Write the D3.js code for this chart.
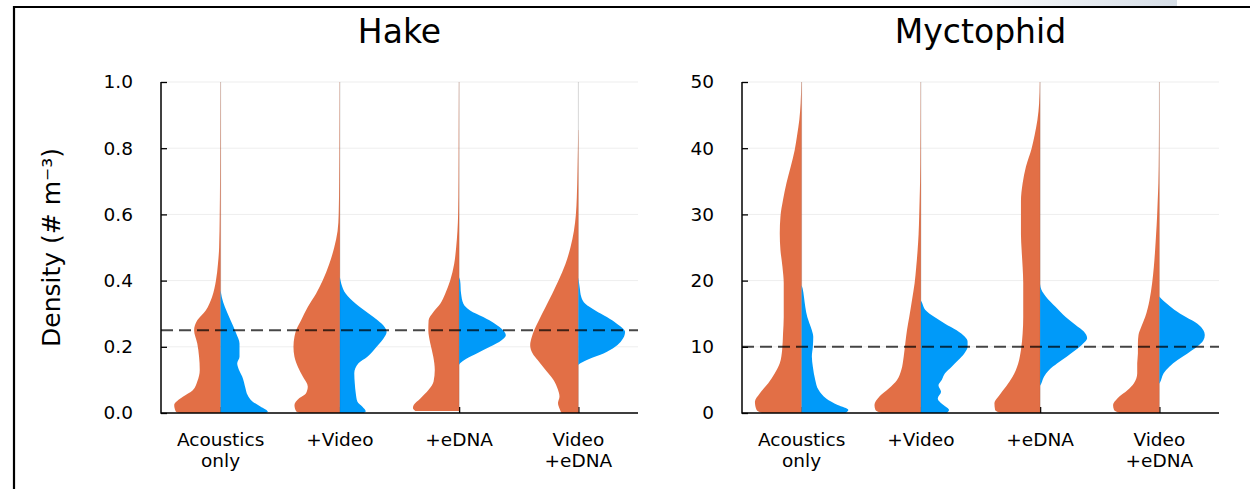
<!DOCTYPE html>
<html><head><meta charset="utf-8">
<script src="https://cdn.jsdelivr.net/npm/d3@7"></script>
<style>
body{margin:0;background:#fff}
svg{display:block}
text{font-family:"DejaVu Sans",sans-serif;fill:#000}
</style>
</head><body><svg id="c" width="1250" height="489"></svg>
<script>
// ---------------- data ----------------
const categories = ["Acoustics only", "+Video", "+eDNA", "Video +eDNA"];
const categoryLines = [["Acoustics","only"],["+Video"],["+eDNA"],["Video","+eDNA"]];
const panelTitles = ["Hake", "Myctophid"];
const yLabel = "Density (# m\u207B\u00B3)";
const hakeTicks = [0, 0.2, 0.4, 0.6, 0.8, 1.0];
const hakeTickLabels = ["0.0","0.2","0.4","0.6","0.8","1.0"];
const mycTicks = [0, 10, 20, 30, 40, 50];
const mycTickLabels = ["0","10","20","30","40","50"];
const hakeTrueValue = 0.25;
const mycTrueValue = 10;

// density profiles: [value, relative density] ; left = orange half, right = blue half
const hakeAcousticsLeft = [[0,40],[0.004,45],[0.024,46.7],[0.049,38],[0.069,28],[0.095,23.5],[0.13,21],[0.17,21.7],[0.21,23.5],[0.25,26.7],[0.28,23.5],[0.31,15],[0.35,8.7],[0.40,4.7],[0.45,2.7],[0.50,1.5],[0.60,0.9],[0.70,0.6],[0.85,0.4],[1.0,0.2]];
const hakeAcousticsRight = [[0,45],[0.004,47.5],[0.02,40],[0.035,32],[0.055,27],[0.075,25],[0.11,21.7],[0.13,18.5],[0.15,16.7],[0.17,19],[0.21,19],[0.24,15.7],[0.28,10],[0.32,4.3],[0.35,1.2],[0.37,0]];
const hakeVideoLeft = [[0,40],[0.005,44],[0.024,45.7],[0.045,40.7],[0.06,34],[0.08,32.3],[0.11,37.3],[0.14,42.3],[0.17,45.7],[0.20,46.7],[0.23,45.7],[0.25,44],[0.28,39],[0.32,32.3],[0.36,24],[0.40,17.3],[0.45,10.7],[0.50,5.7],[0.55,2.3],[0.60,1.2],[0.70,0.7],[0.85,0.4],[1.0,0.2]];
const hakeVideoRight = [[0,24],[0.005,26],[0.019,22.7],[0.034,17.7],[0.06,16],[0.09,15],[0.12,14.5],[0.15,18.7],[0.17,27.7],[0.20,37],[0.23,45],[0.245,47],[0.26,45],[0.28,38],[0.30,29.3],[0.33,16],[0.36,6],[0.39,1.5],[0.41,0]];
const hakeEdnaLeft = [[0.006,44],[0.015,46.5],[0.024,45.7],[0.044,39],[0.07,30.7],[0.095,25.7],[0.13,24.5],[0.17,26],[0.21,29],[0.25,31],[0.28,30.7],[0.306,25.7],[0.33,19],[0.36,14],[0.40,9],[0.45,5],[0.50,3],[0.55,1.7],[0.60,1],[0.70,0.6],[0.85,0.4],[1.0,0.2]];
const hakeEdnaRight = [[0.145,0],[0.15,1],[0.165,7.7],[0.18,17.7],[0.20,31],[0.22,42.7],[0.235,47],[0.25,44.3],[0.27,36],[0.29,24.3],[0.31,11],[0.33,4.3],[0.36,2],[0.40,1],[0.41,0]];
const hakeBothLeft = [[0,17],[0.01,18.5],[0.03,20.5],[0.05,19],[0.07,20.5],[0.10,25],[0.13,33],[0.16,41],[0.18,46],[0.205,48.5],[0.23,46.8],[0.25,44.5],[0.28,39.7],[0.32,33],[0.36,26.3],[0.40,20],[0.45,13],[0.50,8],[0.55,4.5],[0.60,2.5],[0.65,1.6],[0.73,0.9],[0.855,0.2]];
const hakeBothRight = [[0.145,0],[0.15,2],[0.165,12],[0.18,25.3],[0.20,37],[0.22,43.7],[0.245,47],[0.27,38.7],[0.29,28.7],[0.31,17],[0.33,7],[0.35,3],[0.38,1.3],[0.41,0]];

const mycAcousticsLeft = [[0,40],[0.45,45.3],[1.7,47],[3.0,42],[4.5,33.6],[6.0,27],[7.5,22],[9.5,19.6],[12,18.7],[14.5,18],[17,18],[19.6,18],[22.1,19.3],[24.6,21.3],[27.1,22],[29.7,21.3],[32.2,18.7],[34.7,15.3],[37.2,11],[39.7,7],[42,4.5],[44.3,2.3],[46.8,1],[50,0.3]];
const mycAcousticsRight = [[0,44],[0.45,47],[1.2,36.3],[2.2,24.7],[3.5,17],[5.0,13.7],[7.0,11.3],[8.5,10.3],[10,11.3],[11.5,11.7],[12.5,10.3],[13.5,8],[14.5,5.7],[16,3.7],[17.6,2.3],[18.8,1],[19.3,0]];
const mycVideoLeft = [[0,40],[0.45,45.7],[1.2,46.7],[2.5,41.7],[3.7,32.3],[5,24],[6.5,19.7],[8.5,17.3],[10.5,15.7],[12.5,14],[14.5,11.7],[17,9],[19.6,6.3],[22,4.7],[24.6,3.3],[27,2.3],[29.7,1.7],[32,1.3],[35,0.8],[40,0.5],[50,0.2]];
const mycVideoRight = [[0,26],[0.45,28.3],[1.2,22.7],[2.2,17],[3.2,20.3],[4.2,17.7],[5,21],[6,24.3],[7,31],[8,37.7],[9,43.7],[10,47],[10.8,47],[11.5,44.3],[12.5,36],[13.5,24.3],[14.5,13.7],[15.6,4.3],[16.6,1.3],[17,0]];
const mycEdnaLeft = [[0,40],[0.45,45.3],[1.5,46],[2.7,41],[4,34.3],[5.5,27.6],[7.5,22],[9.5,19.3],[12,17.6],[14.5,17],[17,17],[19.6,17],[22,17.6],[24.6,18.6],[27,19.3],[29.7,19.3],[32,19.3],[34.7,17.6],[37.2,14.3],[40,8.5],[42,5.5],[44.3,2.7],[46.8,1],[50,0.3]];
const mycEdnaRight = [[4.1,0],[4.5,1.3],[5.5,4],[6.5,9],[7.5,17.3],[8.5,26.7],[9.5,35.7],[10.5,43.3],[11.3,47.3],[12.3,44],[13.3,35.7],[14.5,25.7],[16,15.7],[17.6,5.7],[18.6,1.3],[19.5,0]];
const mycBothLeft = [[0,40],[0.45,45.6],[1.2,46.6],[2.2,42.3],[3.5,31.6],[4.5,25.6],[6,22.3],[7.5,22.3],[9,21.6],[10.5,21.6],[11.8,21],[13,18.3],[14.5,14.3],[17,10],[19.6,7.3],[22,5.6],[24.6,4.3],[27,3.3],[29.7,2.3],[32,1.7],[34.7,1],[39.7,0.5],[50,0.2]];
const mycBothRight = [[4.4,0],[5,1.7],[6,4.3],[7,10],[8,18.3],[9,28.3],[10,37.7],[11,44.3],[11.8,45.7],[12.5,44.3],[13.5,38.3],[14.5,26.7],[15.6,15],[16.6,6.7],[17.3,1.7],[17.6,0]];

const colorLeft = "#E26F46";
const colorRight = "#009AF9";

// ---------------- drawing ----------------
const svg = d3.select("#c");

// screenshot frame
const defs = svg.append("defs");
const lg = defs.append("linearGradient").attr("id","topg").attr("x1","0").attr("x2","1");
lg.append("stop").attr("offset","0").attr("stop-color","#ffffff");
lg.append("stop").attr("offset","1").attr("stop-color","#d6dee7");
svg.append("rect").attr("x",950).attr("y",0).attr("width",227).attr("height",6).attr("fill","url(#topg)");
svg.append("path").attr("d","M14,489 V7 H1250").attr("fill","none").attr("stroke","#000").attr("stroke-width",2.2);

const panels = [
  {title: panelTitles[0], ticks: hakeTicks, labels: hakeTickLabels, ref: hakeTrueValue,
   left: [hakeAcousticsLeft, hakeVideoLeft, hakeEdnaLeft, hakeBothLeft],
   right:[hakeAcousticsRight, hakeVideoRight, hakeEdnaRight, hakeBothRight],
   x0: 161, x1: 638, showYLabel: true},
  {title: panelTitles[1], ticks: mycTicks, labels: mycTickLabels, ref: mycTrueValue,
   left: [mycAcousticsLeft, mycVideoLeft, mycEdnaLeft, mycBothLeft],
   right:[mycAcousticsRight, mycVideoRight, mycEdnaRight, mycBothRight],
   x0: 742, x1: 1219, showYLabel: false}
];
const plotTop = 82, plotBottom = 413;

panels.forEach(p => {
  const g = svg.append("g");
  const y = d3.scaleLinear().domain([p.ticks[0], p.ticks[p.ticks.length-1]]).range([plotBottom, plotTop]);
  const x = d3.scalePoint().domain(categories).range([p.x0, p.x1]).padding(0.5);
  const step = x.step();
  const w = d3.scaleLinear().domain([0, 48]).range([0, 0.4*step]);

  // grid
  g.append("g").selectAll("line").data(p.ticks).join("line")
    .attr("x1", p.x0).attr("x2", p.x1).attr("y1", d=>y(d)).attr("y2", d=>y(d))
    .attr("stroke","#000").attr("stroke-opacity",0.07).attr("stroke-width",1);
  g.append("g").selectAll("line").data(categories).join("line")
    .attr("x1", d=>x(d)).attr("x2", d=>x(d)).attr("y1", plotTop).attr("y2", plotBottom)
    .attr("stroke","#000").attr("stroke-opacity",0.07).attr("stroke-width",1);

  // axes (ticks under violins)
  const ya = d3.axisLeft(y).tickValues(p.ticks).tickFormat((d,i)=>p.labels[i]).tickSizeInner(-6).tickSizeOuter(0).tickPadding(28);
  const yg = g.append("g").attr("transform",`translate(${p.x0},0)`).call(ya);
  yg.select(".domain").remove();
  yg.selectAll("line").attr("stroke","#000").attr("stroke-width",1.3);
  yg.selectAll("text").attr("font-family","DejaVu Sans").attr("font-size",18.5).attr("fill","#111");

  const xa = d3.axisBottom(x).tickSizeInner(-6).tickSizeOuter(0).tickFormat("");
  const xg = g.append("g").attr("transform",`translate(0,${plotBottom})`).call(xa);
  xg.select(".domain").remove();
  xg.selectAll("line").attr("stroke","#000").attr("stroke-width",1.3);

  // x labels
  const lab = g.append("g");
  categories.forEach((c,i) => {
    const t = lab.append("text").attr("text-anchor","middle").attr("font-size",18.5).attr("fill","#111");
    categoryLines[i].forEach((ln,j) => {
      t.append("tspan").attr("x", x(c)).attr("y", 446 + j*20.5).text(ln);
    });
  });

  // violins
  categories.forEach((c,i) => {
    const cx = x(c);
    const aL = d3.area().curve(d3.curveMonotoneY).y(d=>y(d[0])).x0(cx).x1(d=>cx - w(d[1]));
    const aR = d3.area().curve(d3.curveMonotoneY).y(d=>y(d[0])).x0(cx).x1(d=>cx + w(d[1]));
    g.append("path").attr("d", aL(p.left[i])).attr("fill", colorLeft);
    g.append("path").attr("d", aR(p.right[i])).attr("fill", colorRight);
    g.append("line").attr("x1",cx).attr("x2",cx).attr("y1",plotTop).attr("y2",plotBottom)
      .attr("stroke","#000").attr("stroke-opacity",0.12).attr("stroke-width",0.8);
  });

  // reference line
  g.append("line").attr("x1", p.x0).attr("x2", p.x1).attr("y1", y(p.ref)).attr("y2", y(p.ref))
    .attr("stroke","#000").attr("stroke-opacity",0.72).attr("stroke-width",2.1).attr("stroke-dasharray","12,6");

  // axis lines on top
  g.append("line").attr("x1",p.x0).attr("x2",p.x0).attr("y1",plotTop).attr("y2",plotBottom+0.75).attr("stroke","#000").attr("stroke-width",1.5);
  g.append("line").attr("x1",p.x0).attr("x2",p.x1).attr("y1",plotBottom).attr("y2",plotBottom).attr("stroke","#000").attr("stroke-width",1.5);

  // title
  g.append("text").attr("x",(p.x0+p.x1)/2).attr("y",43).attr("text-anchor","middle").attr("font-size",33).text(p.title);

  if (p.showYLabel) {
    g.append("text").attr("transform",`translate(60,${(plotTop+plotBottom)/2}) rotate(-90)`)
      .attr("text-anchor","middle").attr("font-size",25).text(yLabel);
  }
});
</script>
</body></html>
